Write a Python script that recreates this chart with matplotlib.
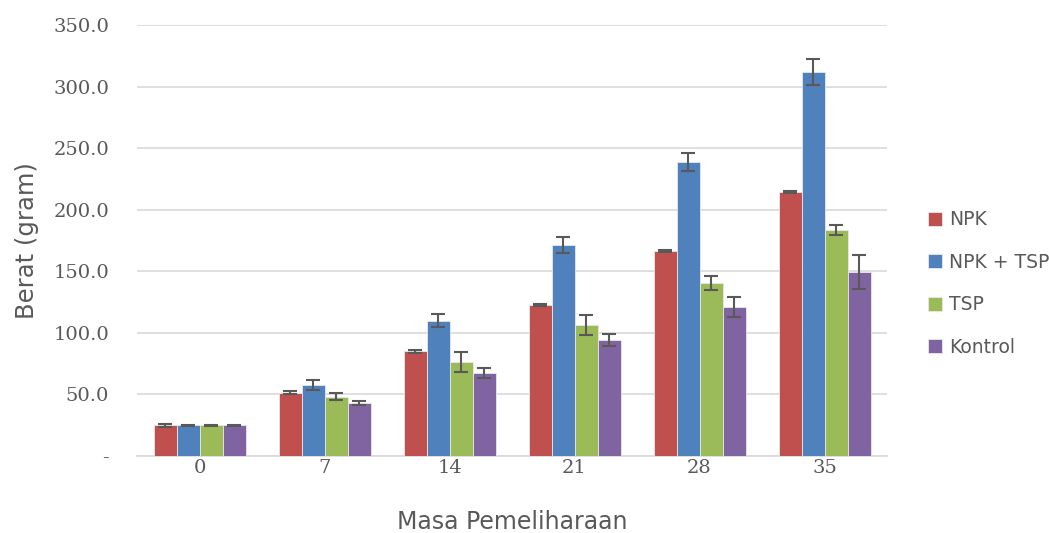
import numpy as np
import matplotlib.pyplot as plt

# Data
days = ['0', '7', '14', '21', '28', '35']
series = ['NPK', 'NPK + TSP', 'TSP', 'Kontrol']
npk = [25.0, 51.5, 85.0, 122.7, 166.5, 214.5]
npk_tsp = [25.0, 57.7, 110.0, 171.4, 239.0, 312.0]
tsp = [25.0, 48.0, 76.5, 106.4, 140.5, 183.6]
kontrol = [25.0, 43.0, 67.5, 94.0, 121.0, 149.5]
npk_err = [1.2, 1.3, 1.0, 1.0, 0.8, 1.0]
npk_tsp_err = [0.5, 3.8, 5.0, 6.5, 7.3, 10.5]
tsp_err = [0.5, 2.8, 8.0, 8.0, 5.7, 4.0]
kontrol_err = [0.5, 1.8, 4.0, 5.0, 8.0, 14.0]
colors = ['#C0504D', '#4F81BD', '#9BBB59', '#8064A2']

values = [npk, npk_tsp, tsp, kontrol]
errors = [npk_err, npk_tsp_err, tsp_err, kontrol_err]

fig = plt.figure(figsize=(10.49, 5.33), dpi=100)
ax = fig.add_axes([0.1306, 0.1445, 0.715, 0.8085])

x = np.arange(len(days))
w = 0.184
for i, (vals, errs) in enumerate(zip(values, errors)):
    pos = x + (i - 1.5) * w
    ax.bar(pos, vals, width=w, color=colors[i], edgecolor='#E8E8E8',
           linewidth=0.6, label=series[i], zorder=3)
    ax.errorbar(pos, vals, yerr=errs, fmt='none', ecolor='#595959',
                elinewidth=1.5, capsize=5, capthick=1.5, zorder=4)

ax.set_xlim(-0.5, len(days) - 0.5)
ax.set_ylim(0, 350)
ax.set_yticks(np.arange(0, 351, 50))
ax.set_yticklabels(['-'] + [f'{v:.1f}' for v in np.arange(50, 351, 50)])
ax.set_xticks(x)
ax.set_xticklabels(days)
for lab in ax.get_xticklabels() + ax.get_yticklabels():
    lab.set_fontfamily('DejaVu Serif')
    lab.set_fontsize(14)
    lab.set_color('#595959')
ax.tick_params(axis='x', length=0, pad=2)
ax.tick_params(axis='y', length=0, pad=20)

ax.grid(axis='y', color='#D9D9D9', linewidth=1.2, zorder=0)
for s in ['top', 'right', 'left']:
    ax.spines[s].set_visible(False)
ax.spines['bottom'].set_color('#D9D9D9')
ax.spines['bottom'].set_linewidth(1.2)

ax.set_ylabel('Berat (gram)', fontsize=17.5, color='#595959', labelpad=10)
ax.set_xlabel('Masa Pemeliharaan', fontsize=17, color='#595959', labelpad=24)

leg = ax.legend(loc='center left', bbox_to_anchor=(1.045, 0.4), frameon=False,
                fontsize=13.5, handlelength=0.75, handleheight=0.75,
                handletextpad=0.35, labelspacing=1.25, borderaxespad=0)
for t in leg.get_texts():
    t.set_color('#595959')

fig.savefig('out.png', dpi=100)
